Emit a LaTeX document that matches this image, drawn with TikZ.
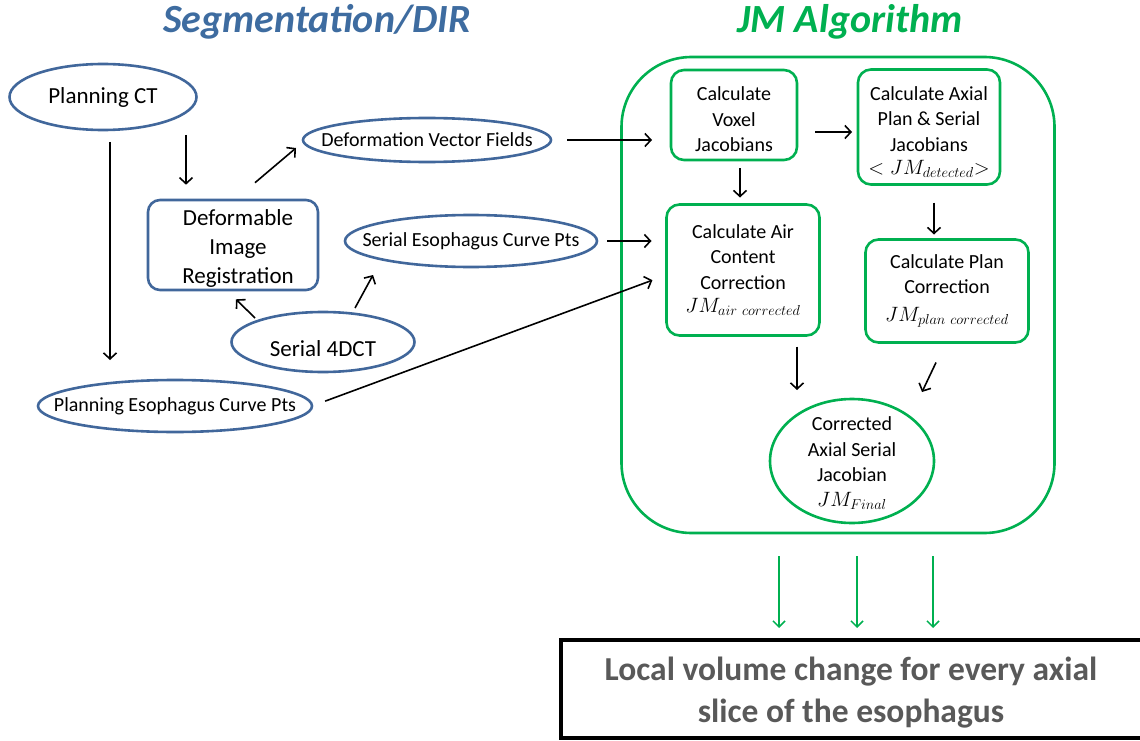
\documentclass[tikz,border=0pt]{standalone}
\usepackage{fontspec}
\setmainfont{Carlito}
\DeclareMathSizes{22}{22}{15.5}{11}
\usetikzlibrary{shapes.geometric,arrows.meta,calc}
\definecolor{blueline}{RGB}{65,103,155}
\definecolor{titleblue}{RGB}{62,108,160}
\definecolor{jmgreen}{RGB}{0,176,80}
\definecolor{txtgray}{RGB}{89,89,89}
\newcommand{\jmm}[1]{{\fontsize{22}{25.5}\selectfont$#1$}}
\tikzset{
  ell/.style={ellipse, draw=blueline, line width=2.6pt, inner sep=0pt, outer sep=0pt},
  gbox/.style={draw=jmgreen, line width=2.6pt, rounded corners=13pt, inner sep=0pt, outer sep=0pt, align=center},
  arr/.style={draw=black, line width=1.6pt, -{Straight Barb[length=6pt,width=13pt,line width=1.6pt]}},
  garr/.style={draw=jmgreen, line width=1.5pt, -{Straight Barb[length=6pt,width=12pt,line width=1.5pt]}},
  t16/.style={font=\fontsize{20}{24}\selectfont},
  t17/.style={font=\fontsize{20}{25.5}\selectfont},
  t18/.style={font=\fontsize{23}{29}\selectfont},
}
\begin{document}
\begin{tikzpicture}[x=1pt,y=-1pt]
\useasboundingbox (0,0) rectangle (1140,741);
% titles
\node[text=titleblue, font=\fontsize{40}{44}\selectfont\bfseries\itshape] (t1) at (317,22) {Segmentation/DIR};
\node[text=jmgreen, font=\fontsize{40}{44}\selectfont\bfseries\itshape] (t2) at (850,22) {JM Algorithm};
% left side
\node[ell, minimum width=187pt, minimum height=66pt, t18] (pct) at (103,97) {\makebox[0pt]{Planning CT}};
\node[ell, minimum width=248pt, minimum height=44pt, t16] (dvf) at (427,140) {\makebox[0pt]{Deformation Vector Fields}};
\node[draw=blueline, line width=2.6pt, rounded corners=12pt, minimum width=170pt, minimum height=90pt, inner sep=0pt, align=center, t18] (dir) at (233,245) {\rule{0pt}{22.5pt}\hspace*{10pt}Deformable\\\hspace*{10pt}Image\\\hspace*{10pt}Registration};
\node[ell, minimum width=252pt, minimum height=52pt, t16] (secp) at (471,241) {\makebox[0pt]{Serial Esophagus Curve Pts}};
\node[ell, minimum width=183pt, minimum height=60pt, t18] (s4d) at (323,342) {\makebox[0pt]{\smash{\raisebox{-14pt}{Serial 4DCT}}}};
\node[ell, minimum width=274pt, minimum height=52pt, t16] (pecp) at (175,406) {\makebox[0pt]{Planning Esophagus Curve Pts}};
% right side
\node[draw=jmgreen, line width=2.6pt, rounded corners=70pt, minimum width=433pt, minimum height=476pt, inner sep=0pt, outer sep=0pt] (outer) at (838,295) {};
\node[gbox, minimum width=126pt, minimum height=90pt, t17] (voxel) at (734,115) {\rule{0pt}{23pt}Calculate\\Voxel\\Jacobians};
\node[gbox, minimum width=142pt, minimum height=115pt, t17] (axial) at (929,127) {\rule{0pt}{24pt}Calculate Axial\\Plan \& Serial\\Jacobians\\[-2pt]\jmm{<JM_{detected}{>}}};
\node[gbox, minimum width=153pt, minimum height=131pt, t17] (air) at (743,270) {Calculate Air\\Content\\Correction\\[-2pt]\jmm{JM_{air\ corrected}}};
\node[gbox, minimum width=163pt, minimum height=103pt, t17] (plan) at (947,291) {Calculate Plan\\Correction\\[2pt]\jmm{JM_{plan\ corrected}}};
\node[ellipse, draw=jmgreen, line width=2.6pt, minimum width=164pt, minimum height=124pt, inner sep=0pt, outer sep=0pt] (corr) at (852,461) {};
\node[align=center, t17, inner sep=0pt] (corrtext) at (852,463) {Corrected\\Axial Serial\\Jacobian\\[-1pt]\jmm{JM_{Final}}};
% bottom box
\node[draw=black, line width=3.2pt, minimum width=584pt, minimum height=98pt, inner sep=0pt, outer sep=0pt, align=center, text=txtgray, font=\fontsize{33.5}{42}\selectfont\bfseries] (bottom) at (853,689) {\rule{0pt}{30pt}\hspace*{-4pt}Local volume change for every axial\\\hspace*{-4pt}slice of the esophagus};
% arrows left
\draw[arr] ([xshift=7pt,yshift=-12pt]pct.south) -- ([xshift=-65pt,yshift=20pt]pecp.north);
\draw[arr] ([xshift=83pt,yshift=-5pt]pct.south) -- ([xshift=-47pt,yshift=14pt]dir.north);
\draw[arr] ([xshift=22pt,yshift=16pt]dir.north) -- ([xshift=-7pt,yshift=-8pt]dvf.west);
\draw[arr] ([xshift=-68pt,yshift=-6pt]s4d.north) -- ([xshift=3pt,yshift=-8pt]dir.south);
\draw[arr] ([xshift=32pt,yshift=4pt]s4d.north) -- ([xshift=-98pt,yshift=-8pt]secp.south);
\draw[arr, shorten <=16pt, shorten >=19pt] (dvf.east) -- (dvf.east -| voxel.west);
\draw[arr, shorten <=10pt, shorten >=15pt] (secp.east) -- (secp.east -| air.west);
\draw[arr, shorten <=14pt, shorten >=15pt] (pecp.east) -- ([yshift=-5pt]air.west);
% arrows inside
\draw[arr, shorten <=18pt, shorten >=6pt] ([yshift=-17pt]voxel.east) -- ([yshift=-17pt]voxel.east -| axial.west);
\draw[arr, shorten <=8pt, shorten >=7pt] ([xshift=6pt]voxel.south) -- ([xshift=6pt]voxel.south |- air.north);
\draw[arr, shorten <=18pt, shorten >=5pt] ([xshift=5pt]axial.south) -- ([xshift=5pt]axial.south |- plan.north);
\draw[arr, shorten <=11pt, shorten >=9pt] ([xshift=54pt]air.south) -- ([xshift=54pt]air.south |- corr.north);
\draw[arr] ([xshift=-11pt,yshift=-20pt]plan.south) -- ([xshift=70pt,yshift=7pt]corr.north);
% green arrows
\draw[garr, shorten <=23pt, shorten >=12pt] ([xshift=-59pt]outer.south) -- ([xshift=-59pt]outer.south |- bottom.north);
\draw[garr, shorten <=23pt, shorten >=12pt] ([xshift=19pt]outer.south) -- ([xshift=19pt]outer.south |- bottom.north);
\draw[garr, shorten <=23pt, shorten >=12pt] ([xshift=95pt]outer.south) -- ([xshift=95pt]outer.south |- bottom.north);
\end{tikzpicture}
\end{document}
